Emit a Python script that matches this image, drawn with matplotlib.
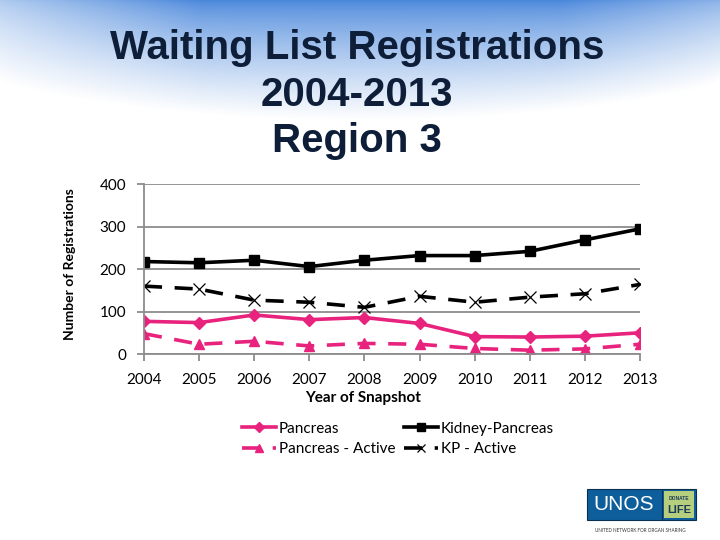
import numpy as np
import matplotlib
matplotlib.use("Agg")
import matplotlib.pyplot as plt
from matplotlib.patches import Rectangle

years = [2004, 2005, 2006, 2007, 2008, 2009, 2010, 2011, 2012, 2013]
pancreas = [77, 74, 92, 81, 86, 72, 41, 40, 42, 50]
pancreas_active = [48, 23, 30, 19, 25, 23, 13, 9, 12, 23]
kidney_pancreas = [218, 215, 221, 206, 221, 232, 232, 242, 269, 295]
kp_active = [160, 153, 127, 122, 110, 136, 122, 134, 142, 164]
yticks = [0, 100, 200, 300, 400]

title_lines = ["Waiting List Registrations", "2004-2013", "Region 3"]

pink = "#E8237E"
body_font = ["Lato", "DejaVu Sans"]
title_font = ["Liberation Sans Narrow", "Liberation Sans", "DejaVu Sans"]

W, H = 720, 540
fig = plt.figure(figsize=(7.2, 5.4), dpi=100)


def fx(px):
    return px / W


def fy(py):
    return 1 - py / H


# background gradient
bg = fig.add_axes([0, 0, 1, 1], zorder=-10)
yy, xx = np.mgrid[0:H, 0:W]
top = np.array([0.29, 0.53, 0.86])
white = np.array([1.0, 1.0, 1.0])
u = xx / W
depth = 80 + 40 * np.sin(np.pi * u) ** 0.7
t = np.clip(yy / depth, 0, 1) ** 0.75
edge = np.clip(1 - u / 0.28, 0, 1) * 0.55 + np.clip((u - 0.78) / 0.22, 0, 1) * 0.35
t = np.clip(t + edge * (1 - t), 0, 1)
img = top[None, None, :] * (1 - t[..., None]) + white[None, None, :] * t[..., None]
bg.imshow(img, extent=[0, 1, 0, 1], aspect="auto", origin="upper")
bg.set_axis_off()

# titles
for i, line in enumerate(title_lines):
    fig.text(fx(357), fy(48 + 46.5 * i), line, ha="center", va="center",
             fontsize=29, fontweight="bold", color="#0E1E38", family=title_font)

ax = fig.add_axes([fx(144), fy(354), (640 - 144) / W, (354 - 184.3) / H])
ax.set_facecolor("none")
ax.plot(years, pancreas, color=pink, lw=2.6, marker="D", ms=6.5, label="Pancreas")
ax.plot(years, pancreas_active, color=pink, lw=2.6, ls=(0, (5, 3.5)), marker="^",
        ms=7.5, label="Pancreas - Active")
ax.plot(years, kidney_pancreas, color="black", lw=2.6, marker="s", ms=7,
        label="Kidney-Pancreas")
ax.plot(years, kp_active, color="black", lw=2.6, ls=(0, (5, 3.5)), marker="x", ms=8,
        mew=0.9, label="KP - Active")

ax.set_xlim(2004, 2013)
ax.set_ylim(0, 400)
ax.set_yticks(yticks)
ax.set_xticks(years)
ax.set_xticklabels([str(y) for y in years], family=body_font, fontsize=11)
ax.set_yticklabels([str(v) for v in yticks], family=body_font, fontsize=11)
ax.grid(axis="y", color="#8C8C8C", lw=1.3)
ax.set_axisbelow(True)
for s in ["top", "right"]:
    ax.spines[s].set_visible(False)
for s in ["left", "bottom"]:
    ax.spines[s].set_color("#8C8C8C")
    ax.spines[s].set_linewidth(1.3)
ax.tick_params(axis="both", color="#8C8C8C", width=1.3, length=5, direction="out")
ax.tick_params(axis="y", pad=8)
ax.tick_params(axis="x", pad=9)

fig.text(fx(363), fy(398), "Year of Snapshot", ha="center", va="center",
         family=body_font, fontsize=11, fontweight="bold")
fig.text(fx(70), fy(264), "Number of Registrations", ha="center", va="center",
         rotation=90, family=body_font, fontsize=10, fontweight="bold")

handles, labels = ax.get_legend_handles_labels()
leg = fig.legend(handles, labels, ncol=2, loc="center",
                 bbox_to_anchor=(fx(398), fy(439)),
                 frameon=False, prop={"family": body_font, "size": 11},
                 handlelength=2.2, handletextpad=0.2, columnspacing=0.6,
                 labelspacing=0.45, markerscale=0.8)

# UNOS logo
fig.patches.append(Rectangle((fx(587), fy(520)), 75 / W, 31 / H,
                             transform=fig.transFigure, facecolor="#0F5E9C",
                             edgecolor="#0A3050", lw=0.8))
fig.patches.append(Rectangle((fx(662), fy(520)), 34 / W, 31 / H,
                             transform=fig.transFigure, facecolor="#0F5E9C",
                             edgecolor="#0A3050", lw=0.8))
fig.patches.append(Rectangle((fx(664), fy(518)), 30 / W, 27 / H,
                             transform=fig.transFigure, facecolor="#B6CF7E",
                             edgecolor="none"))
fig.text(fx(624), fy(505), "UNOS", ha="center", va="center", color="white",
         fontsize=15, family=["Liberation Sans", "DejaVu Sans"])
fig.text(fx(679), fy(499), "DONATE", ha="center", va="center", color="#1A3A5A",
         fontsize=3.5, fontweight="bold", family=title_font)
fig.text(fx(679), fy(510), "LIFE", ha="center", va="center", color="#1A3A5A",
         fontsize=8, fontweight="bold", family=title_font)
fig.text(fx(640), fy(530), "UNITED NETWORK FOR ORGAN SHARING", ha="center",
         va="center", color="#333333", fontsize=3.3, family=body_font)

fig.savefig("out.png", dpi=100)
